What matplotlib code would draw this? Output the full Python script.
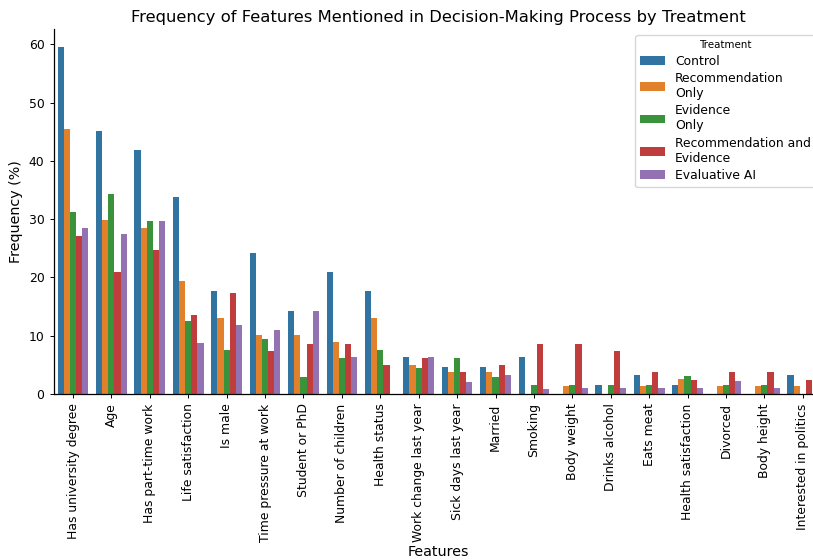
import numpy as np
import matplotlib
matplotlib.use("Agg")
import matplotlib.pyplot as plt

features = ["Has university degree", "Age", "Has part-time work", "Life satisfaction",
            "Is male", "Time pressure at work", "Student or PhD", "Number of children",
            "Health status", "Work change last year", "Sick days last year", "Married",
            "Smoking", "Body weight", "Drinks alcohol", "Eats meat", "Health satisfaction",
            "Divorced", "Body height", "Interested in politics"]

treatments = ["Control", "Recommendation\nOnly", "Evidence\nOnly",
              "Recommendation and\nEvidence", "Evaluative AI"]

control = [59.6, 45.2, 41.9, 33.8, 17.6, 24.2, 14.3, 20.9, 17.6, 6.4, 4.7, 4.7,
           6.4, 0.0, 1.5, 3.3, 1.5, 0.0, 0.0, 3.3]
rec_only = [45.5, 29.9, 28.5, 19.4, 13.0, 10.2, 10.2, 9.0, 13.0, 5.0, 3.8, 3.8,
            0.0, 1.4, 0.0, 1.4, 2.6, 1.4, 1.4, 1.4]
evid_only = [31.3, 34.3, 29.7, 12.5, 7.6, 9.4, 3.0, 6.1, 7.6, 4.5, 6.1, 3.0,
             1.5, 1.5, 1.5, 1.5, 3.1, 1.5, 1.5, 0.0]
rec_evid = [27.1, 20.9, 24.7, 13.5, 17.3, 7.3, 8.5, 8.5, 4.9, 6.1, 3.7, 4.9,
            8.5, 8.5, 7.4, 3.8, 2.4, 3.8, 3.8, 2.4]
eval_ai = [28.5, 27.4, 29.7, 8.7, 11.9, 10.9, 14.2, 6.4, 0.0, 6.4, 2.1, 3.2,
           0.9, 1.0, 1.0, 1.0, 1.0, 2.2, 1.0, 0.0]

series = [control, rec_only, evid_only, rec_evid, eval_ai]
colors = ['#3274a1', '#e1812c', '#3a923a', '#c03d3e', '#9372b2']

fig = plt.figure(figsize=(8.13, 5.6), dpi=100)
ax = fig.add_axes([53.8 / 813, 1 - 394 / 560, (822 - 53.8) / 813, (394 - 29.3) / 560])

x = np.arange(len(features))
n = len(series)
w = 0.8 / n
for i, (vals, lab, c) in enumerate(zip(series, treatments, colors)):
    ax.bar(x - 0.4 + w * (i + 0.5), vals, width=w, color=c, label=lab)

ax.set_xlim(-0.5, len(features) - 0.5)
ax.set_ylim(0, max(control) * 1.05)
ax.set_xticks(x)
ax.set_xticklabels(features, rotation=90, fontsize=8.9)
ax.set_yticks([0, 10, 20, 30, 40, 50, 60])
ax.tick_params(axis='both', labelsize=8.9, length=3.2, width=0.7)
for s in ['left', 'bottom']:
    ax.spines[s].set_linewidth(0.9)
ax.spines['top'].set_visible(False)
ax.spines['right'].set_visible(False)
ax.set_xlabel("Features", fontsize=10.3, labelpad=2)
ax.set_ylabel("Frequency (%)", fontsize=10.3)
ax.set_title("Frequency of Features Mentioned in Decision-Making Process by Treatment",
             fontsize=11.8, pad=5)
leg = ax.legend(title="Treatment", loc='upper right', fontsize=8.9, title_fontsize=7.4,
                labelspacing=0.35)

fig.savefig("out.png", dpi=100)
